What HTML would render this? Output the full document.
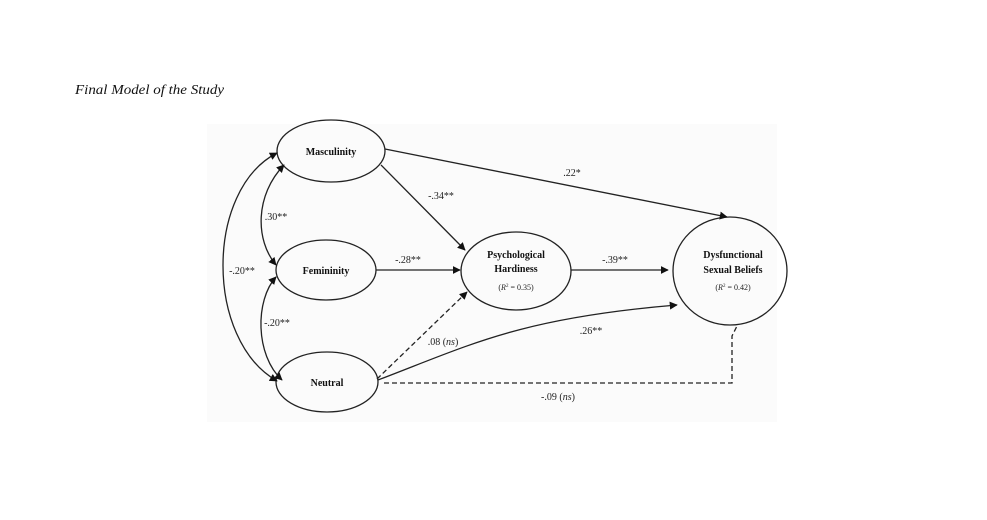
<!DOCTYPE html>
<html><head><style>
body{margin:0;background:#fff;}
svg{display:block;font-family:"Liberation Serif",serif;}
</style></head><body>
<svg width="987" height="520" viewBox="0 0 987 520">
<defs>
<marker id="a" viewBox="0 0 10 10" refX="9" refY="5" markerWidth="8" markerHeight="8" orient="auto-start-reverse" markerUnits="userSpaceOnUse"><path d="M0,0 L10,5 L0,10 z" fill="#111"/></marker>
</defs>
<rect width="987" height="520" fill="#fff"/>
<rect x="207" y="124" width="570" height="298" fill="#fbfbfb"/>
<text x="75" y="94" font-size="14" font-style="italic" fill="#111" textLength="149" lengthAdjust="spacingAndGlyphs">Final Model of the Study</text>
<g stroke="#222" stroke-width="1.3" fill="none">
<ellipse cx="331" cy="151" rx="54" ry="31"/>
<ellipse cx="326" cy="270" rx="50" ry="30"/>
<ellipse cx="327" cy="382" rx="51" ry="30"/>
<ellipse cx="516" cy="271" rx="55" ry="39"/>
<ellipse cx="730" cy="271" rx="57" ry="54"/>
<path d="M277,153 C205,190 205,340 277,381" marker-start="url(#a)" marker-end="url(#a)"/>
<path d="M284,165 C255,195 255,240 276,265" marker-start="url(#a)" marker-end="url(#a)"/>
<path d="M276,277 C255,300 255,355 282,380" marker-start="url(#a)" marker-end="url(#a)"/>
<path d="M381,165 L465,250" marker-end="url(#a)"/>
<path d="M376,270 L460,270" marker-end="url(#a)"/>
<path d="M571,270 L668,270" marker-end="url(#a)"/>
<path d="M385,149 L727,217" marker-end="url(#a)"/>
<path d="M377,379 L467,292" stroke-dasharray="5,3" marker-end="url(#a)"/>
<path d="M378,380 C470,345 520,318 677,305" marker-end="url(#a)"/>
<path d="M384,383 L732,383 L732,336 L737,326" stroke-dasharray="5,3"/>
</g>
<g font-size="10" fill="#111" text-anchor="middle" font-weight="bold">
<text x="331" y="155">Masculinity</text>
<text x="326" y="274">Femininity</text>
<text x="327" y="386">Neutral</text>
<text x="516" y="258">Psychological</text>
<text x="516" y="272">Hardiness</text>
<text x="733" y="258">Dysfunctional</text>
<text x="733" y="273">Sexual Beliefs</text>
</g>
<g font-size="8" fill="#222" text-anchor="middle">
<text x="516" y="290">(<tspan font-style="italic">R</tspan><tspan font-size="5" dy="-3">2</tspan><tspan dy="3"> = 0.35)</tspan></text>
<text x="733" y="290">(<tspan font-style="italic">R</tspan><tspan font-size="5" dy="-3">2</tspan><tspan dy="3"> = 0.42)</tspan></text>
</g>
<g font-size="10" fill="#222" text-anchor="middle">
<text x="572" y="176">.22*</text>
<text x="441" y="199">-.34**</text>
<text x="276" y="220">.30**</text>
<text x="242" y="274">-.20**</text>
<text x="408" y="263">-.28**</text>
<text x="615" y="263">-.39**</text>
<text x="277" y="326">-.20**</text>
<text x="443" y="345">.08 (<tspan font-style="italic">ns</tspan>)</text>
<text x="591" y="334">.26**</text>
<text x="558" y="400">-.09 (<tspan font-style="italic">ns</tspan>)</text>
</g>
</svg>
</body></html>
